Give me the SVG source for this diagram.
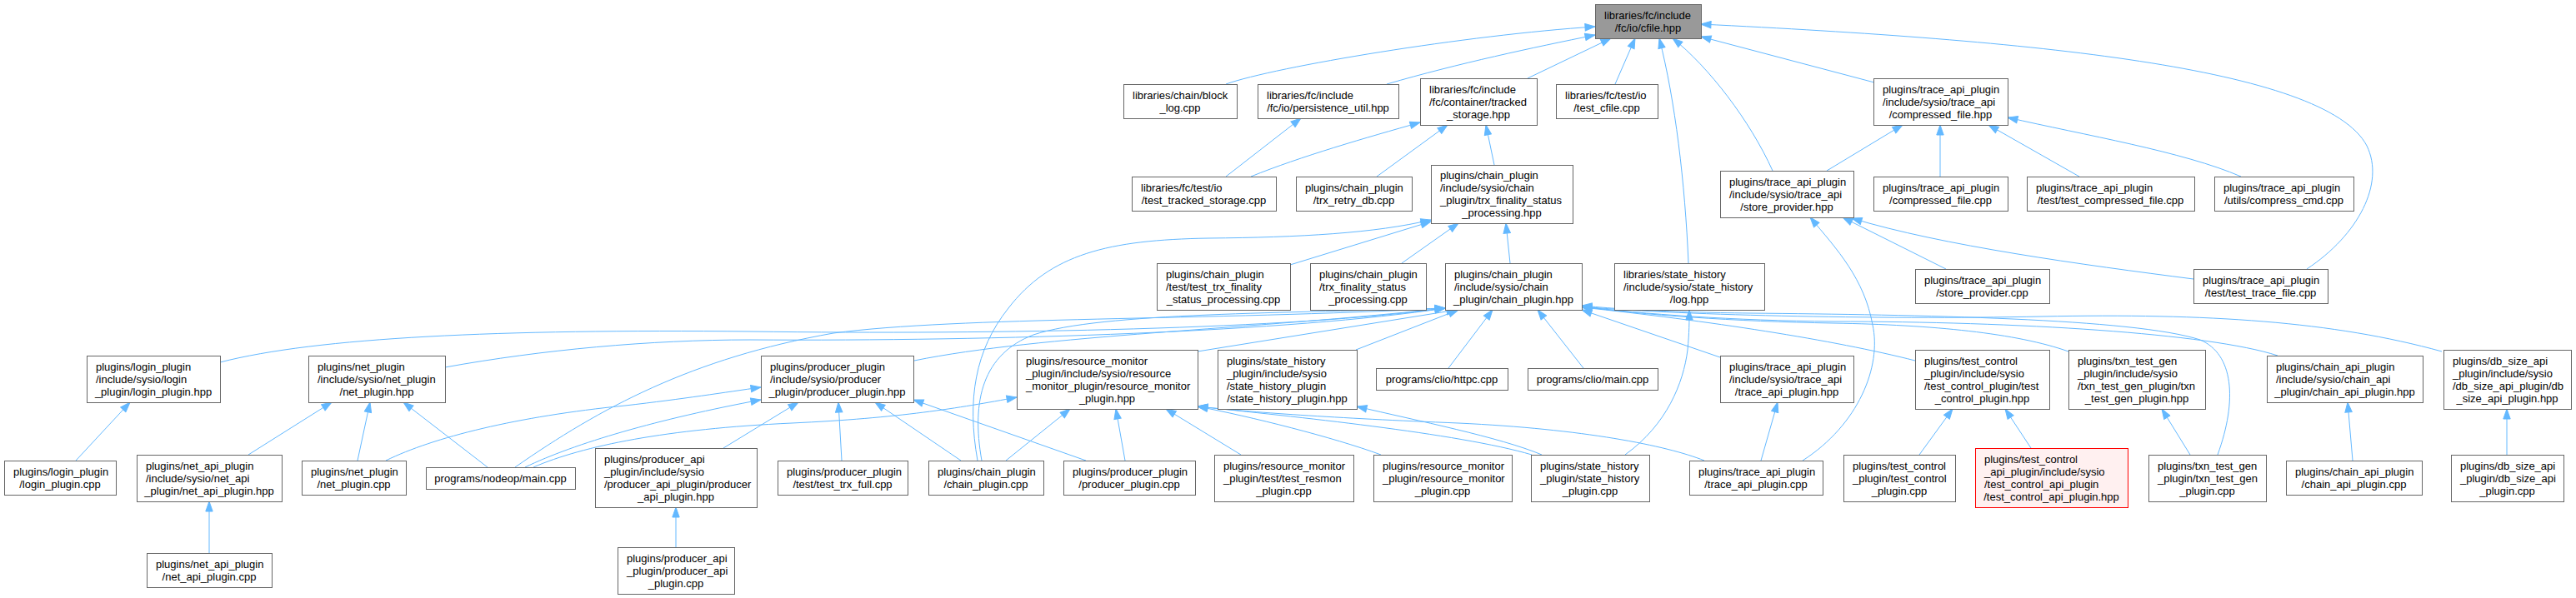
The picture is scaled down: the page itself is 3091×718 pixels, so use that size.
<svg xmlns="http://www.w3.org/2000/svg" width="3091" height="718" viewBox="0 0 3091 718">
<style>
text{font-family:"Liberation Sans",Arial,Helvetica,sans-serif;font-size:13px;fill:#000}
.c{text-anchor:middle}
.n rect{fill:#fff;stroke:#666;stroke-width:1}
.e path{fill:none;stroke:#63b8ff;stroke-width:1;marker-end:url(#ah)}
</style>
<defs>
<marker id="ah" markerUnits="userSpaceOnUse" markerWidth="14" markerHeight="10" viewBox="0 0 14 10" refX="13" refY="5" orient="auto">
<path d="M1,0.8 L13,5 L1,9.2 z" fill="#63b8ff" stroke="#63b8ff"/>
</marker>
</defs>
<rect width="3091" height="718" fill="#fff"/>
<g class="e" id="edges">
<path d="M1471,101 C1530,80 1760,42 1914,32"/>
<path d="M1664,101 C1750,76 1840,57 1914,42"/>
<path d="M1833,94 L1933,46"/>
<path d="M1938,101 L1962,46"/>
<path d="M2026,316 C2022,220 2010,120 1991,46"/>
<path d="M2127,205 C2100,145 2050,80 2007,46"/>
<path d="M2249,99 L2041,44"/>
<path d="M2768,323 C2830,282 2862,220 2840,175 C2790,80 2430,48 2041,29"/>
<path d="M1471,212 L1561,142"/>
<path d="M1501,212 C1560,188 1640,165 1704,147"/>
<path d="M1652,212 L1737,150"/>
<path d="M1793,198 L1783,150"/>
<path d="M2192,205 L2283,150"/>
<path d="M2328,212 L2328,150"/>
<path d="M2495,212 L2386,150"/>
<path d="M2689,212 C2620,182 2500,162 2409,141"/>
<path d="M1548,318 L1717,266"/>
<path d="M1682,316 L1750,268"/>
<path d="M1812,316 L1807,268"/>
<path d="M1173,553 C1160,480 1170,420 1210,370 C1260,305 1330,288 1450,286 C1560,285 1650,280 1717,264"/>
<path d="M2335,323 L2211,261"/>
<path d="M2632,335 C2500,318 2330,295 2222,262"/>
<path d="M2163,553 C2230,510 2258,440 2247,390 C2237,335 2205,300 2172,261"/>
<path d="M264,435 C380,405 600,395 900,398 C1200,402 1550,395 1734,370"/>
<path d="M534,441 C650,420 780,408 900,408 C1200,410 1550,398 1734,370"/>
<path d="M618,561 C720,490 830,430 1000,400 C1150,380 1450,385 1734,370"/>
<path d="M1097,433 C1250,402 1500,396 1734,370"/>
<path d="M1178,553 C1165,480 1180,425 1240,402 C1320,375 1550,376 1734,370"/>
<path d="M1437,422 L1748,372"/>
<path d="M1627,420 L1750,372"/>
<path d="M1738,442 L1791,372"/>
<path d="M1900,442 L1845,372"/>
<path d="M2064,429 L1898,372"/>
<path d="M2298,433 C2200,408 2050,385 1898,369"/>
<path d="M2482,422 C2420,400 2320,390 2200,388 C2080,386 1970,378 1898,368"/>
<path d="M2733,427 C2650,400 2420,386 2200,386 C2080,385 1970,377 1898,368"/>
<path d="M2930,422 C2800,386 2650,376 2450,380 C2250,384 2000,378 1898,368"/>
<path d="M2661,546 C2685,480 2680,425 2640,408 C2560,382 2300,378 2100,376 C2000,375 1940,371 1898,367"/>
<path d="M298,546 L398,483"/>
<path d="M429,553 L444,483"/>
<path d="M585,561 L484,483"/>
<path d="M91,553 L156,483"/>
<path d="M251,664 L251,602"/>
<path d="M463,553 C520,525 620,500 750,487 C820,479 870,471 913,465"/>
<path d="M630,561 C690,532 790,503 913,480"/>
<path d="M868,538 L958,483"/>
<path d="M1010,553 L1006,483"/>
<path d="M1153,553 L1050,483"/>
<path d="M1303,553 L1096,480"/>
<path d="M640,561 C700,535 800,515 950,508 C1080,502 1150,490 1220,477"/>
<path d="M1207,553 L1284,491"/>
<path d="M1350,553 L1339,491"/>
<path d="M1489,546 L1399,491"/>
<path d="M1657,546 C1600,525 1500,500 1437,488"/>
<path d="M1838,546 C1750,520 1550,500 1437,488"/>
<path d="M2045,553 C2000,535 1900,515 1750,508 C1600,502 1500,495 1437,488"/>
<path d="M1850,546 C1800,525 1700,505 1628,488"/>
<path d="M1950,546 C2000,510 2020,460 2025,420 C2027,400 2027,385 2027,372"/>
<path d="M2113,553 L2133,483"/>
<path d="M2303,546 L2343,491"/>
<path d="M2437,538 L2406,491"/>
<path d="M2628,546 L2594,491"/>
<path d="M2823,553 L2817,483"/>
<path d="M3008,546 L3008,491"/>
<path d="M811,657 L811,609"/>
</g>
<g class="n" id="n0"><rect x="1914.5" y="5.5" width="127" height="41" style="fill:#999"/><text x="1925" y="22.5">libraries/fc/include</text><text class="c" x="1977.5" y="37.5">/fc/io/cfile.hpp</text></g>
<g class="n" id="n1"><rect x="1348.5" y="101.5" width="136" height="41"/><text x="1359" y="118.5">libraries/chain/block</text><text class="c" x="1416" y="133.5">_log.cpp</text></g>
<g class="n" id="n2"><rect x="1509.5" y="101.5" width="169" height="41"/><text x="1520" y="118.5">libraries/fc/include</text><text class="c" x="1593.5" y="133.5">/fc/io/persistence_util.hpp</text></g>
<g class="n" id="n3"><rect x="1704.5" y="94.5" width="140" height="56"/><text x="1715" y="111.5">libraries/fc/include</text><text x="1715" y="126.5">/fc/container/tracked</text><text class="c" x="1774" y="141.5">_storage.hpp</text></g>
<g class="n" id="n4"><rect x="1867.5" y="101.5" width="122" height="41"/><text x="1878" y="118.5">libraries/fc/test/io</text><text class="c" x="1928" y="133.5">/test_cfile.cpp</text></g>
<g class="n" id="n5"><rect x="2248.5" y="94.5" width="161" height="56"/><text x="2259" y="111.5">plugins/trace_api_plugin</text><text x="2259" y="126.5">/include/sysio/trace_api</text><text class="c" x="2328.5" y="141.5">/compressed_file.hpp</text></g>
<g class="n" id="n6"><rect x="1358.5" y="212.5" width="173" height="41"/><text x="1369" y="229.5">libraries/fc/test/io</text><text class="c" x="1444.5" y="244.5">/test_tracked_storage.cpp</text></g>
<g class="n" id="n7"><rect x="1555.5" y="212.5" width="139" height="41"/><text x="1566" y="229.5">plugins/chain_plugin</text><text class="c" x="1624.5" y="244.5">/trx_retry_db.cpp</text></g>
<g class="n" id="n8"><rect x="1717.5" y="198.5" width="170" height="70"/><text x="1728" y="215">plugins/chain_plugin</text><text x="1728" y="230">/include/sysio/chain</text><text x="1728" y="245">_plugin/trx_finality_status</text><text class="c" x="1802" y="260">_processing.hpp</text></g>
<g class="n" id="n9"><rect x="2064.5" y="205.5" width="160" height="56"/><text x="2075" y="222.5">plugins/trace_api_plugin</text><text x="2075" y="237.5">/include/sysio/trace_api</text><text class="c" x="2144" y="252.5">/store_provider.hpp</text></g>
<g class="n" id="n10"><rect x="2248.5" y="212.5" width="161" height="41"/><text x="2259" y="229.5">plugins/trace_api_plugin</text><text class="c" x="2328.5" y="244.5">/compressed_file.cpp</text></g>
<g class="n" id="n11"><rect x="2432.5" y="212.5" width="201" height="41"/><text x="2443" y="229.5">plugins/trace_api_plugin</text><text class="c" x="2532.5" y="244.5">/test/test_compressed_file.cpp</text></g>
<g class="n" id="n12"><rect x="2657.5" y="212.5" width="167" height="41"/><text x="2668" y="229.5">plugins/trace_api_plugin</text><text class="c" x="2740.5" y="244.5">/utils/compress_cmd.cpp</text></g>
<g class="n" id="n13"><rect x="1388.5" y="316.5" width="160" height="56"/><text x="1399" y="333.5">plugins/chain_plugin</text><text x="1399" y="348.5">/test/test_trx_finality</text><text class="c" x="1468" y="363.5">_status_processing.cpp</text></g>
<g class="n" id="n14"><rect x="1572.5" y="316.5" width="139" height="56"/><text x="1583" y="333.5">plugins/chain_plugin</text><text x="1583" y="348.5">/trx_finality_status</text><text class="c" x="1641.5" y="363.5">_processing.cpp</text></g>
<g class="n" id="n15"><rect x="1734.5" y="316.5" width="164" height="56"/><text x="1745" y="333.5">plugins/chain_plugin</text><text x="1745" y="348.5">/include/sysio/chain</text><text class="c" x="1816" y="363.5">_plugin/chain_plugin.hpp</text></g>
<g class="n" id="n16"><rect x="1937.5" y="316.5" width="180" height="56"/><text x="1948" y="333.5">libraries/state_history</text><text x="1948" y="348.5">/include/sysio/state_history</text><text class="c" x="2027" y="363.5">/log.hpp</text></g>
<g class="n" id="n17"><rect x="2298.5" y="323.5" width="161" height="41"/><text x="2309" y="340.5">plugins/trace_api_plugin</text><text class="c" x="2378.5" y="355.5">/store_provider.cpp</text></g>
<g class="n" id="n18"><rect x="2632.5" y="323.5" width="161" height="41"/><text x="2643" y="340.5">plugins/trace_api_plugin</text><text class="c" x="2712.5" y="355.5">/test/test_trace_file.cpp</text></g>
<g class="n" id="n19"><rect x="104.5" y="427.5" width="160" height="56"/><text x="115" y="444.5">plugins/login_plugin</text><text x="115" y="459.5">/include/sysio/login</text><text class="c" x="184" y="474.5">_plugin/login_plugin.hpp</text></g>
<g class="n" id="n20"><rect x="370.5" y="427.5" width="164" height="56"/><text x="381" y="444.5">plugins/net_plugin</text><text x="381" y="459.5">/include/sysio/net_plugin</text><text class="c" x="452" y="474.5">/net_plugin.hpp</text></g>
<g class="n" id="n21"><rect x="913.5" y="427.5" width="183" height="56"/><text x="924" y="444.5">plugins/producer_plugin</text><text x="924" y="459.5">/include/sysio/producer</text><text class="c" x="1004.5" y="474.5">_plugin/producer_plugin.hpp</text></g>
<g class="n" id="n22"><rect x="1220.5" y="420.5" width="217" height="71"/><text x="1231" y="437.5">plugins/resource_monitor</text><text x="1231" y="452.5">_plugin/include/sysio/resource</text><text x="1231" y="467.5">_monitor_plugin/resource_monitor</text><text class="c" x="1328.5" y="482.5">_plugin.hpp</text></g>
<g class="n" id="n23"><rect x="1461.5" y="420.5" width="167" height="71"/><text x="1472" y="437.5">plugins/state_history</text><text x="1472" y="452.5">_plugin/include/sysio</text><text x="1472" y="467.5">/state_history_plugin</text><text class="c" x="1544.5" y="482.5">/state_history_plugin.hpp</text></g>
<g class="n" id="n24"><rect x="1651.5" y="442.5" width="158" height="26"/><text class="c" x="1730" y="459.5">programs/clio/httpc.cpp</text></g>
<g class="n" id="n25"><rect x="1833.5" y="442.5" width="156" height="26"/><text class="c" x="1911" y="459.5">programs/clio/main.cpp</text></g>
<g class="n" id="n26"><rect x="2064.5" y="427.5" width="160" height="56"/><text x="2075" y="444.5">plugins/trace_api_plugin</text><text x="2075" y="459.5">/include/sysio/trace_api</text><text class="c" x="2144" y="474.5">/trace_api_plugin.hpp</text></g>
<g class="n" id="n27"><rect x="2298.5" y="420.5" width="161" height="71"/><text x="2309" y="437.5">plugins/test_control</text><text x="2309" y="452.5">_plugin/include/sysio</text><text x="2309" y="467.5">/test_control_plugin/test</text><text class="c" x="2378.5" y="482.5">_control_plugin.hpp</text></g>
<g class="n" id="n28"><rect x="2482.5" y="420.5" width="164" height="71"/><text x="2493" y="437.5">plugins/txn_test_gen</text><text x="2493" y="452.5">_plugin/include/sysio</text><text x="2493" y="467.5">/txn_test_gen_plugin/txn</text><text class="c" x="2564" y="482.5">_test_gen_plugin.hpp</text></g>
<g class="n" id="n29"><rect x="2720.5" y="427.5" width="187" height="56"/><text x="2731" y="444.5">plugins/chain_api_plugin</text><text x="2731" y="459.5">/include/sysio/chain_api</text><text class="c" x="2813.5" y="474.5">_plugin/chain_api_plugin.hpp</text></g>
<g class="n" id="n30"><rect x="2932.5" y="420.5" width="153" height="71"/><text x="2943" y="437.5">plugins/db_size_api</text><text x="2943" y="452.5">_plugin/include/sysio</text><text x="2943" y="467.5">/db_size_api_plugin/db</text><text class="c" x="3008.5" y="482.5">_size_api_plugin.hpp</text></g>
<g class="n" id="n31"><rect x="5.5" y="553.5" width="134" height="41"/><text x="16" y="570.5">plugins/login_plugin</text><text class="c" x="72" y="585.5">/login_plugin.cpp</text></g>
<g class="n" id="n32"><rect x="164.5" y="546.5" width="174" height="56"/><text x="175" y="563.5">plugins/net_api_plugin</text><text x="175" y="578.5">/include/sysio/net_api</text><text class="c" x="251" y="593.5">_plugin/net_api_plugin.hpp</text></g>
<g class="n" id="n33"><rect x="362.5" y="553.5" width="125" height="41"/><text x="373" y="570.5">plugins/net_plugin</text><text class="c" x="424.5" y="585.5">/net_plugin.cpp</text></g>
<g class="n" id="n34"><rect x="511.5" y="561.5" width="179" height="26"/><text class="c" x="600.5" y="578.5">programs/nodeop/main.cpp</text></g>
<g class="n" id="n35"><rect x="714.5" y="538.5" width="194" height="71"/><text x="725" y="555.5">plugins/producer_api</text><text x="725" y="570.5">_plugin/include/sysio</text><text x="725" y="585.5">/producer_api_plugin/producer</text><text class="c" x="811" y="600.5">_api_plugin.hpp</text></g>
<g class="n" id="n36"><rect x="933.5" y="553.5" width="156" height="41"/><text x="944" y="570.5">plugins/producer_plugin</text><text class="c" x="1011" y="585.5">/test/test_trx_full.cpp</text></g>
<g class="n" id="n37"><rect x="1114.5" y="553.5" width="138" height="41"/><text x="1125" y="570.5">plugins/chain_plugin</text><text class="c" x="1183" y="585.5">/chain_plugin.cpp</text></g>
<g class="n" id="n38"><rect x="1276.5" y="553.5" width="158" height="41"/><text x="1287" y="570.5">plugins/producer_plugin</text><text class="c" x="1355" y="585.5">/producer_plugin.cpp</text></g>
<g class="n" id="n39"><rect x="1457.5" y="546.5" width="167" height="56"/><text x="1468" y="563.5">plugins/resource_monitor</text><text x="1468" y="578.5">_plugin/test/test_resmon</text><text class="c" x="1540.5" y="593.5">_plugin.cpp</text></g>
<g class="n" id="n40"><rect x="1648.5" y="546.5" width="166" height="56"/><text x="1659" y="563.5">plugins/resource_monitor</text><text x="1659" y="578.5">_plugin/resource_monitor</text><text class="c" x="1731" y="593.5">_plugin.cpp</text></g>
<g class="n" id="n41"><rect x="1837.5" y="546.5" width="142" height="56"/><text x="1848" y="563.5">plugins/state_history</text><text x="1848" y="578.5">_plugin/state_history</text><text class="c" x="1908" y="593.5">_plugin.cpp</text></g>
<g class="n" id="n42"><rect x="2027.5" y="553.5" width="160" height="41"/><text x="2038" y="570.5">plugins/trace_api_plugin</text><text class="c" x="2107" y="585.5">/trace_api_plugin.cpp</text></g>
<g class="n" id="n43"><rect x="2212.5" y="546.5" width="134" height="56"/><text x="2223" y="563.5">plugins/test_control</text><text x="2223" y="578.5">_plugin/test_control</text><text class="c" x="2279" y="593.5">_plugin.cpp</text></g>
<g class="n" id="n44"><rect x="2370.5" y="538.5" width="183" height="71" style="fill:#fff0f0;stroke:#f00"/><text x="2381" y="555.5">plugins/test_control</text><text x="2381" y="570.5">_api_plugin/include/sysio</text><text x="2381" y="585.5">/test_control_api_plugin</text><text class="c" x="2461.5" y="600.5">/test_control_api_plugin.hpp</text></g>
<g class="n" id="n45"><rect x="2578.5" y="546.5" width="141" height="56"/><text x="2589" y="563.5">plugins/txn_test_gen</text><text x="2589" y="578.5">_plugin/txn_test_gen</text><text class="c" x="2648.5" y="593.5">_plugin.cpp</text></g>
<g class="n" id="n46"><rect x="2743.5" y="553.5" width="163" height="41"/><text x="2754" y="570.5">plugins/chain_api_plugin</text><text class="c" x="2824.5" y="585.5">/chain_api_plugin.cpp</text></g>
<g class="n" id="n47"><rect x="2941.5" y="546.5" width="135" height="56"/><text x="2952" y="563.5">plugins/db_size_api</text><text x="2952" y="578.5">_plugin/db_size_api</text><text class="c" x="3008.5" y="593.5">_plugin.cpp</text></g>
<g class="n" id="n48"><rect x="176.5" y="664.5" width="150" height="41"/><text x="187" y="681.5">plugins/net_api_plugin</text><text class="c" x="251" y="696.5">/net_api_plugin.cpp</text></g>
<g class="n" id="n49"><rect x="741.5" y="657.5" width="140" height="56"/><text x="752" y="674.5">plugins/producer_api</text><text x="752" y="689.5">_plugin/producer_api</text><text class="c" x="811" y="704.5">_plugin.cpp</text></g>
</svg>
